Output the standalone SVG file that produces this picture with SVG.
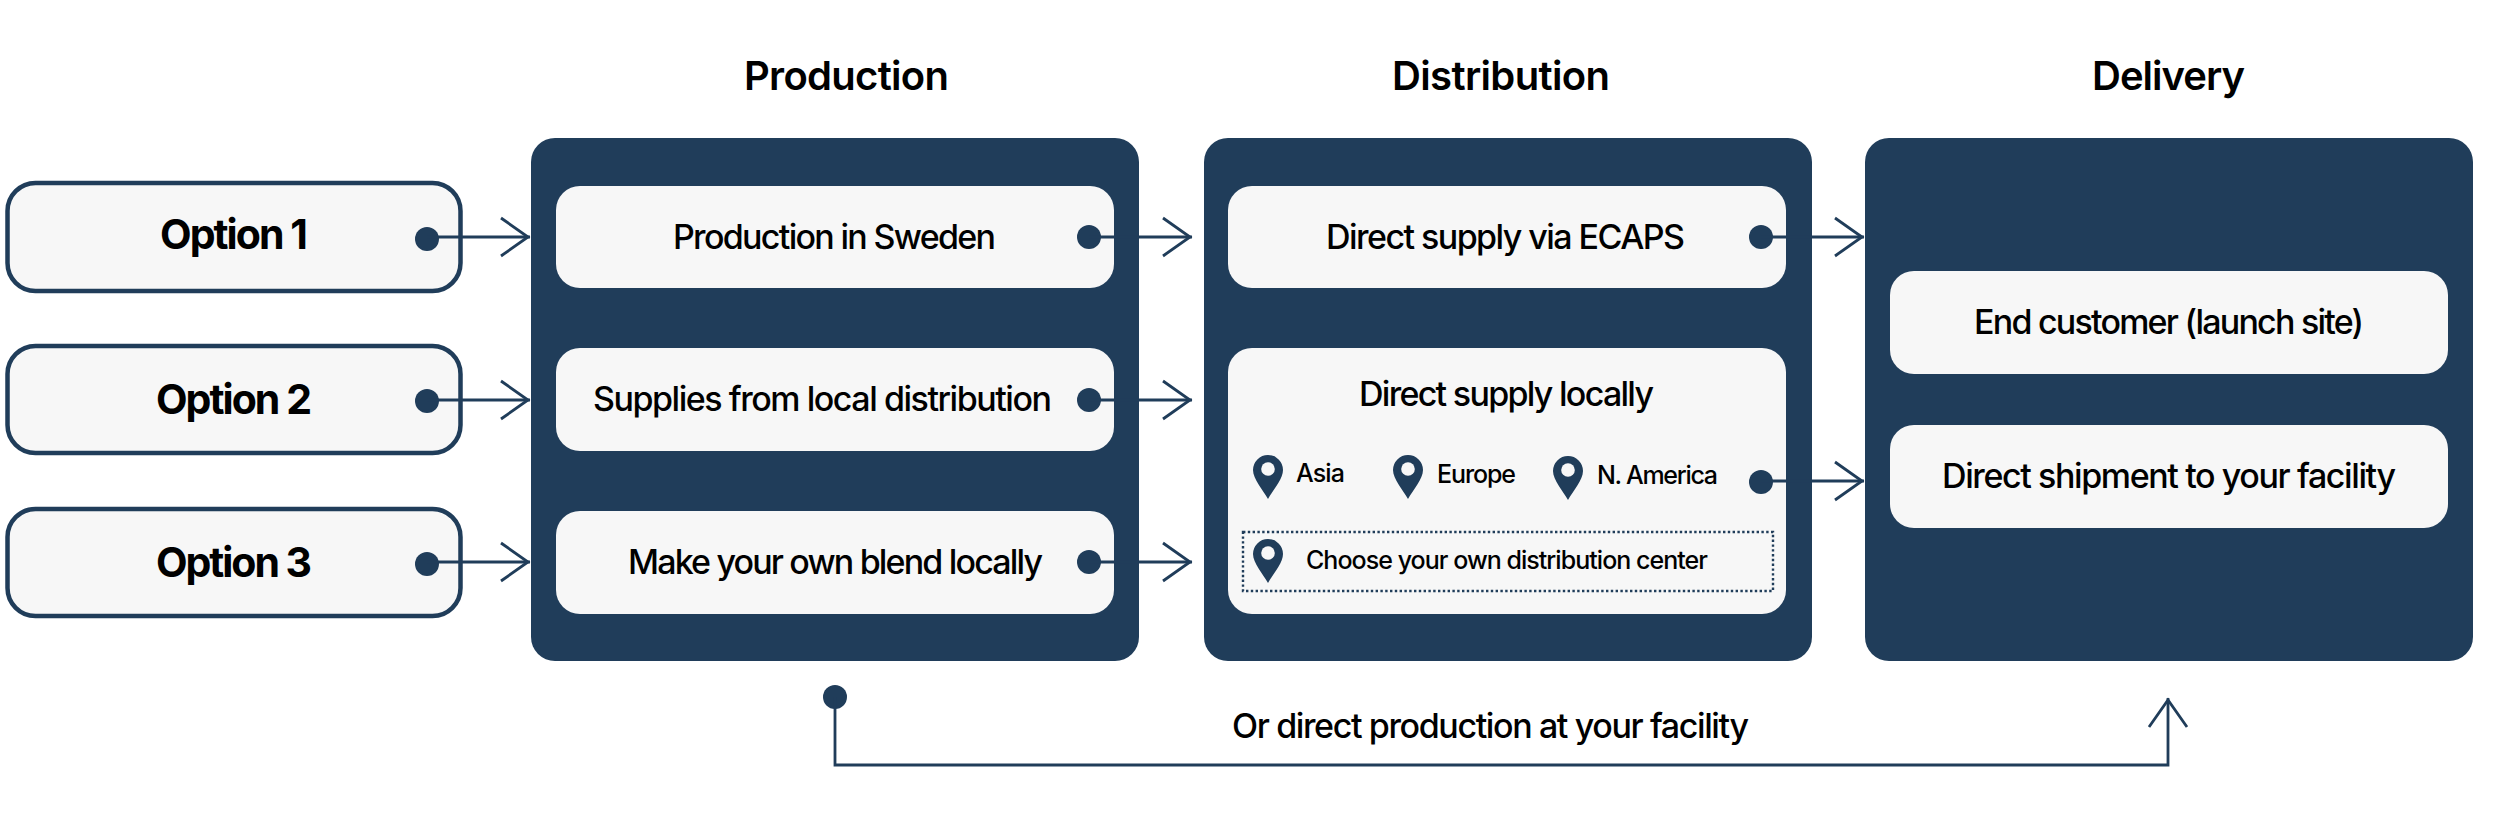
<svg xmlns="http://www.w3.org/2000/svg" width="2500" height="818" viewBox="0 0 2500 818">
<style>
text{font-family:Inter,"Liberation Sans",sans-serif;fill:#000}
.h{font-size:40px;font-weight:600}
.o{font-size:41px;font-weight:700}
.l{font-size:34px;font-weight:500}
.s{font-size:25px;font-weight:500}
.panel{fill:#203d5a}
.box{fill:#f7f7f7}
.opt{fill:#f7f7f7;stroke:#203d5a;stroke-width:4.5}
.dot{fill:#203d5a}
.line{fill:none;stroke:#203d5a;stroke-width:2.8}
.pin{fill:#203d5a}
</style>
<defs>
<marker id="arrow" markerUnits="userSpaceOnUse" markerWidth="38" markerHeight="44" refX="31" refY="22" orient="auto">
<path d="M2 3L29 22L2 41" fill="none" stroke="#203d5a" stroke-width="2.8"/>
</marker>
<g id="pinshape"><path class="pin" fill-rule="evenodd" d="M0 44C-5 35-15 24-15 15A15 15 0 0 1 15 15C15 24 5 35 0 44Z"/><circle cx="0" cy="14" r="6.8" fill="#f7f7f7"/></g>
</defs>
<g id="titles">
<text class="h" x="744" y="90" textLength="205">Production</text>
<text class="h" x="1392" y="90" textLength="218">Distribution</text>
<text class="h" x="2092" y="90" textLength="153">Delivery</text>
</g>
<g id="option-1"><rect class="opt" x="7.5" y="183" width="453" height="108" rx="28"/><text class="o" x="160" y="249" textLength="148">Option 1</text><circle class="dot" cx="427" cy="239" r="12"/></g>
<g id="option-2"><rect class="opt" x="7.5" y="346" width="453" height="107" rx="28"/><text class="o" x="156" y="414" textLength="156">Option 2</text><circle class="dot" cx="427" cy="401" r="12"/></g>
<g id="option-3"><rect class="opt" x="7.5" y="509" width="453" height="107" rx="28"/><text class="o" x="156" y="577" textLength="156">Option 3</text><circle class="dot" cx="427" cy="564" r="12"/></g>
<g id="panel-production"><rect class="panel" x="531" y="138" width="608" height="523" rx="24"/></g>
<g id="panel-distribution"><rect class="panel" x="1204" y="138" width="608" height="523" rx="24"/></g>
<g id="panel-delivery"><rect class="panel" x="1865" y="138" width="608" height="523" rx="24"/></g>
<g id="production-sweden"><rect class="box" x="556" y="186" width="558" height="102" rx="24"/><text class="l" x="673" y="249" textLength="323">Production in Sweden</text><circle class="dot" cx="1089" cy="237" r="12"/></g>
<g id="production-local"><rect class="box" x="556" y="348" width="558" height="103" rx="24"/><text class="l" x="593" y="411" textLength="459">Supplies from local distribution</text><circle class="dot" cx="1089" cy="400" r="12"/></g>
<g id="production-blend"><rect class="box" x="556" y="511" width="558" height="103" rx="24"/><text class="l" x="628" y="574" textLength="415">Make your own blend locally</text><circle class="dot" cx="1089" cy="562" r="12"/></g>
<g id="distribution-ecaps"><rect class="box" x="1228" y="186" width="558" height="102" rx="24"/><text class="l" x="1326" y="249" textLength="359">Direct supply via ECAPS</text><circle class="dot" cx="1761" cy="237" r="12"/></g>
<g id="distribution-local"><rect class="box" x="1228" y="348" width="558" height="266" rx="24"/>
<text class="l" x="1359" y="406" textLength="295">Direct supply locally</text>
<use href="#pinshape" x="1268" y="455"/><text class="s" x="1296" y="482" textLength="49">Asia</text>
<use href="#pinshape" x="1408" y="455"/><text class="s" x="1437" y="483" textLength="79">Europe</text>
<use href="#pinshape" x="1568" y="456"/><text class="s" x="1597" y="484" textLength="121">N. America</text>
<circle class="dot" cx="1761" cy="482" r="12"/>
<rect x="1243" y="532" width="530" height="59" fill="none" stroke="#203d5a" stroke-width="2.4" stroke-dasharray="2.4 2.4"/>
<use href="#pinshape" x="1268" y="539"/><text class="s" x="1306" y="569" textLength="402">Choose your own distribution center</text></g>
<g id="delivery-customer"><rect class="box" x="1890" y="271" width="558" height="103" rx="24"/><text class="l" x="1974" y="334" textLength="390">End customer (launch site)</text></g>
<g id="delivery-shipment"><rect class="box" x="1890" y="425" width="558" height="103" rx="24"/><text class="l" x="1942" y="488" textLength="454">Direct shipment to your facility</text></g>
<g id="label-direct"><circle class="dot" cx="835" cy="697" r="12"/><text class="l" x="1232" y="738" textLength="517">Or direct production at your facility</text></g>
<g id="connectors">
<path class="line" marker-end="url(#arrow)" d="M427 237H530"/>
<path class="line" marker-end="url(#arrow)" d="M427 400H530"/>
<path class="line" marker-end="url(#arrow)" d="M427 562H530"/>
<path class="line" marker-end="url(#arrow)" d="M1089 237H1192"/>
<path class="line" marker-end="url(#arrow)" d="M1089 400H1192"/>
<path class="line" marker-end="url(#arrow)" d="M1089 562H1192"/>
<path class="line" marker-end="url(#arrow)" d="M1761 237H1864"/>
<path class="line" marker-end="url(#arrow)" d="M1761 481H1864"/>
<path class="line" marker-end="url(#arrow)" d="M835 697V765H2168V698"/>
</g>
</svg>
